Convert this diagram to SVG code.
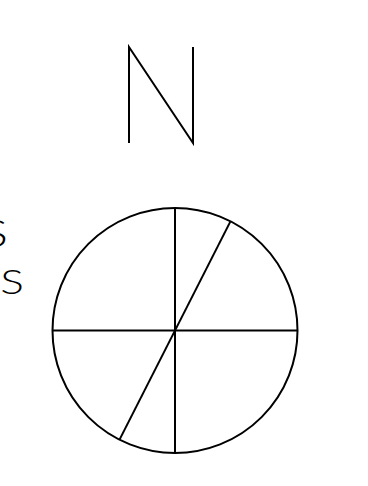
<svg xmlns="http://www.w3.org/2000/svg" width="368" height="486" viewBox="0 0 368 486">
<style>
.ln{fill:none;stroke:#000;stroke-width:2;stroke-linecap:butt;stroke-linejoin:miter}
.lbl{font-family:Lato,"Open Sans","Liberation Sans",sans-serif;font-weight:300;fill:#000}
</style>
<rect width="368" height="486" fill="#fff"/>
<g id="north">
<polyline class="ln" points="129,143 129,47 193,143 193,47"/>
</g>
<g id="labels">
<text class="lbl" transform="translate(8,246.5) scale(1.3,1)" font-size="38" text-anchor="end">S</text>
<text class="lbl" transform="translate(24,293.5) scale(1.3,1)" font-size="34" text-anchor="end">S</text>
</g>
<g id="dial">
<circle class="ln" cx="175" cy="330.5" r="122.5"/>
</g>
<g id="connectors">
<line class="ln" x1="52.5" y1="330.5" x2="297.5" y2="330.5"/>
<line class="ln" x1="175" y1="208" x2="175" y2="453"/>
<line class="ln" x1="230.2" y1="221.9" x2="119.8" y2="439.1"/>
</g>
</svg>
